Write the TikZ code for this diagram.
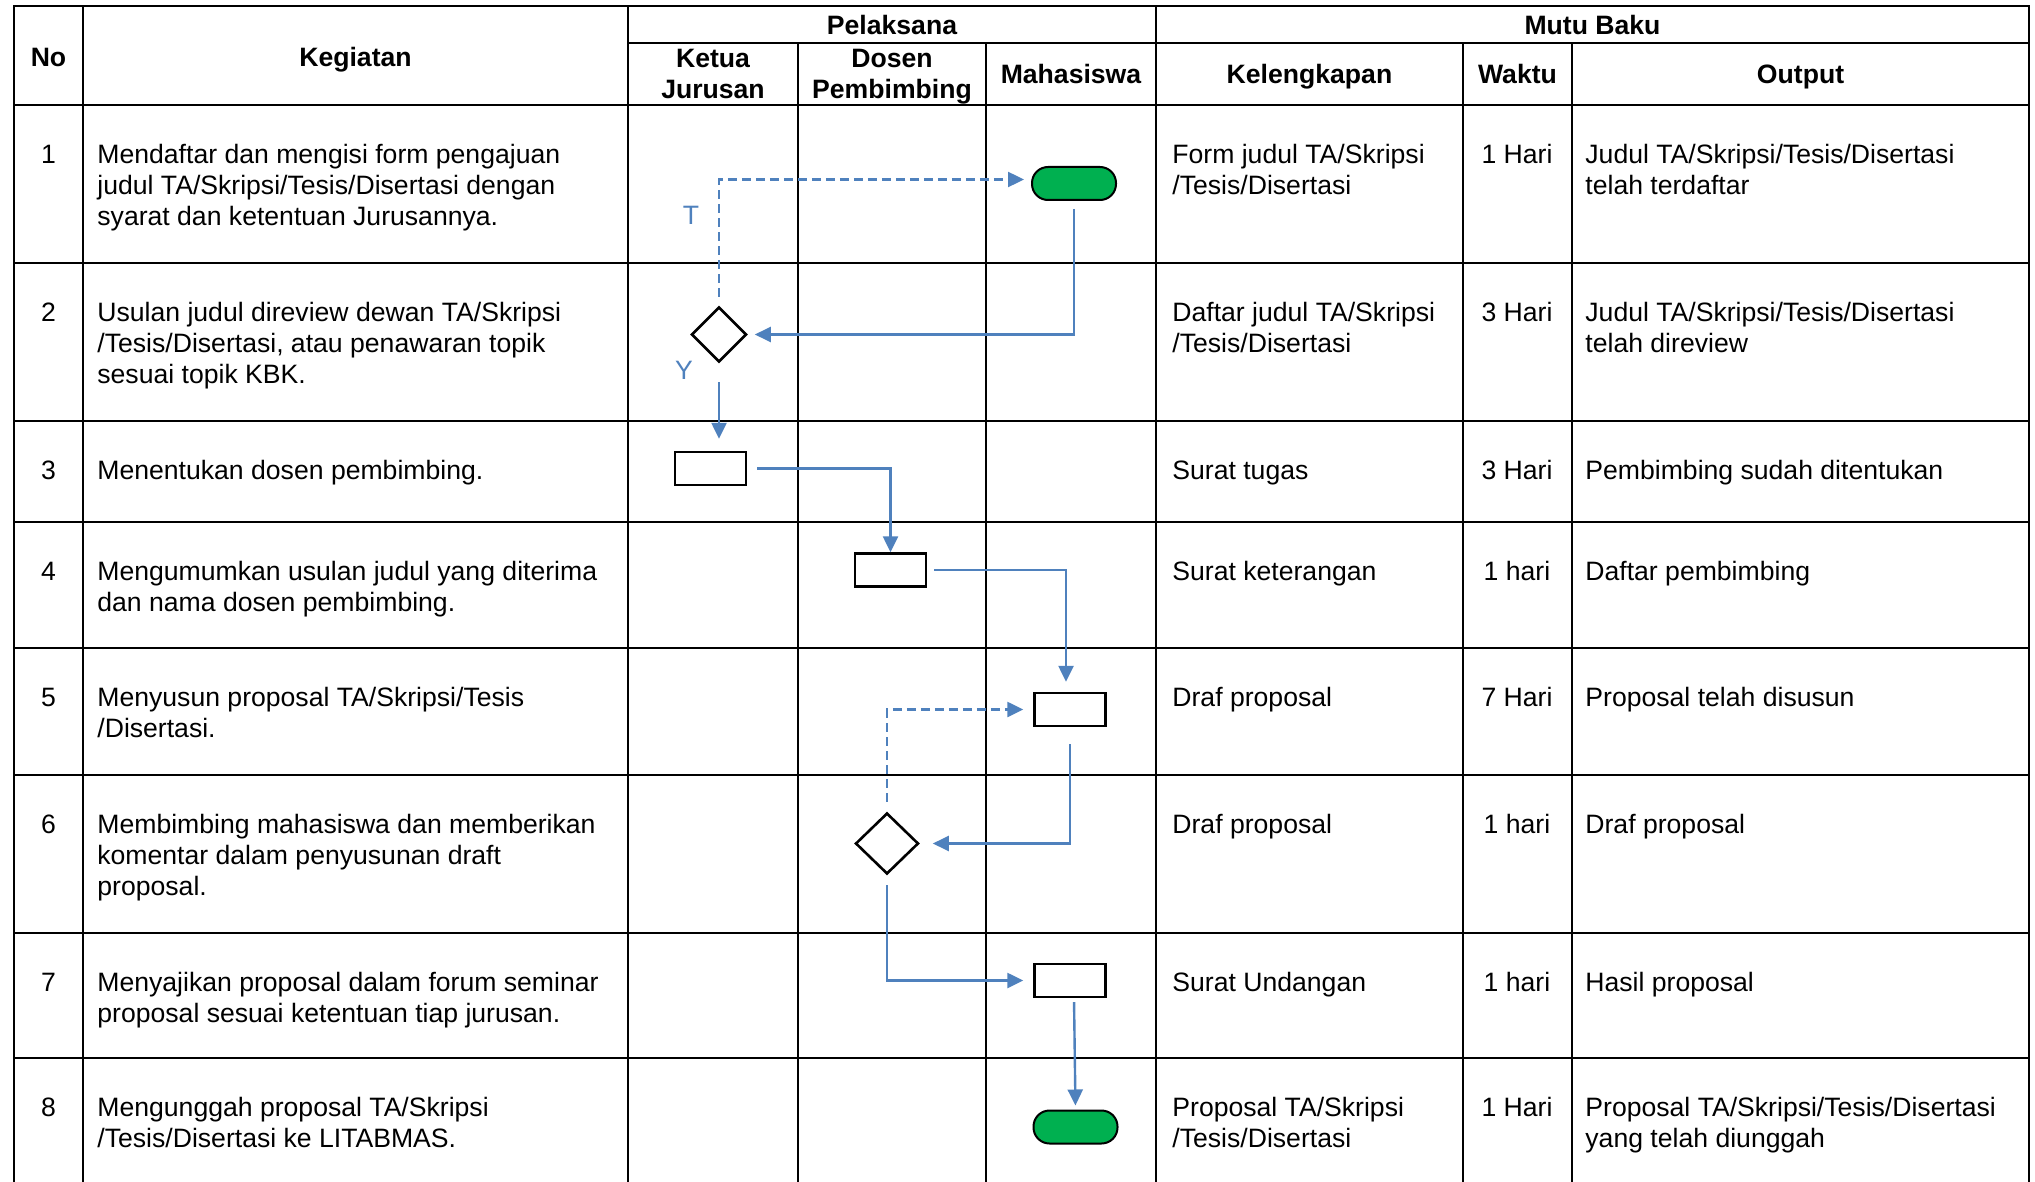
\documentclass[tikz,border=0pt]{standalone}
\usepackage{fontspec}
\setmainfont{Liberation Sans}
\usetikzlibrary{shapes.geometric,arrows.meta}
\definecolor{flowblue}{HTML}{4F81BD}
\definecolor{termgreen}{HTML}{00B050}
\newcommand\tabfont{\fontsize{13.3pt}{15.5pt}\selectfont}
\tikzset{
  cell/.style={anchor=north west,inner sep=0pt,align=left},
  mid/.style={anchor=north,inner sep=0pt,align=center},
  head/.style={mid,font=\tabfont\bfseries},
  terminal/.style={draw,line width=1pt,fill=termgreen,rounded corners=8pt,
    minimum width=42pt,minimum height=16.5pt,inner sep=0pt},
  process/.style={draw,line width=1.2pt,minimum width=35.5pt,minimum height=16.5pt,inner sep=0pt},
  decision/.style={draw,line width=1.3pt,diamond,inner sep=0pt},
  flow/.style={flowblue,line width=1.2pt,-{Triangle[length=8pt,width=7.5pt]}},
  alt/.style={flow,dash pattern=on 4.5pt off 2.5pt},
  lbl/.style={text=flowblue,inner sep=0pt}
}
\begin{document}
\begin{tikzpicture}[x=0.5pt,y=-0.5pt,every node/.style={font=\tabfont}]
    \useasboundingbox (0,0) rectangle (2035,1182);
    % table grid
    \begin{scope}[line width=1pt,line cap=rect]
        \draw (14,6) -- (2029,6);
        \draw (628,43) -- (2029,43);
        \foreach \y in {105,263,421,522,648,775,933,1058}
            \draw (14,\y) -- (2029,\y);
        \foreach \x in {14,83,628,1156,2029}
            \draw (\x,6) -- (\x,1182);
        \foreach \x in {798,986,1463,1572}
            \draw (\x,43) -- (\x,1182);
    \end{scope}
    % header
    \node[head] (hNo) at (48.5,44.3) {\strut No};
    \node[head] (hKeg) at (355.5,44.3) {\strut Kegiatan};
    \node[head] (hPel) at (892,12.3) {\strut Pelaksana};
    \node[head] (hMutu) at (1592.5,12.3) {\strut Mutu Baku};
    \node[head] (hKetua) at (713,45.3) {\strut Ketua\\Jurusan};
    \node[head] (hDosen) at (892,45.3) {\strut Dosen\\Pembimbing};
    \node[head] (hMhs) at (1071,61.3) {\strut Mahasiswa};
    \node[head] (hKel) at (1309.5,61.3) {\strut Kelengkapan};
    \node[head] (hWkt) at (1517.5,61.3) {\strut Waktu};
    \node[head] (hOut) at (1800.5,61.3) {\strut Output};
    % numbers and time
    \foreach \n/\t/\w in {1/105/1 Hari,2/263/3 Hari,3/421/3 Hari,4/522/1 hari,
                          5/648/7 Hari,6/775/1 hari,7/933/1 hari,8/1058/1 Hari}{
        \node[mid] (no\n) at (48.5,\t+36) {\strut\n};
        \node[mid] (wkt\n) at (1517,\t+36) {\strut\w};
    }
    % kegiatan
    \node[cell] (keg1) at (97,141) {\strut Mendaftar dan mengisi form pengajuan\\judul TA/Skripsi/Tesis/Disertasi dengan\\syarat dan ketentuan Jurusannya.};
    \node[cell] (keg2) at (97,299) {\strut Usulan judul direview dewan TA/Skripsi\\/Tesis/Disertasi, atau penawaran topik\\sesuai topik KBK.};
    \node[cell] (keg3) at (97,457) {\strut Menentukan dosen pembimbing.};
    \node[cell] (keg4) at (97,558) {\strut Mengumumkan usulan judul yang diterima\\dan nama dosen pembimbing.};
    \node[cell] (keg5) at (97,684) {\strut Menyusun proposal TA/Skripsi/Tesis\\/Disertasi.};
    \node[cell] (keg6) at (97,811) {\strut Membimbing mahasiswa dan memberikan\\komentar dalam penyusunan draft\\proposal.};
    \node[cell] (keg7) at (97,969) {\strut Menyajikan proposal dalam forum seminar\\proposal sesuai ketentuan tiap jurusan.};
    \node[cell] (keg8) at (97,1094) {\strut Mengunggah proposal TA/Skripsi\\/Tesis/Disertasi ke LITABMAS.};
    % kelengkapan
    \node[cell] (kel1) at (1172,141) {\strut Form judul TA/Skripsi\\/Tesis/Disertasi};
    \node[cell] (kel2) at (1172,299) {\strut Daftar judul TA/Skripsi\\/Tesis/Disertasi};
    \node[cell] (kel3) at (1172,457) {\strut Surat tugas};
    \node[cell] (kel4) at (1172,558) {\strut Surat keterangan};
    \node[cell] (kel5) at (1172,684) {\strut Draf proposal};
    \node[cell] (kel6) at (1172,811) {\strut Draf proposal};
    \node[cell] (kel7) at (1172,969) {\strut Surat Undangan};
    \node[cell] (kel8) at (1172,1094) {\strut Proposal TA/Skripsi\\/Tesis/Disertasi};
    % output
    \node[cell] (out1) at (1585,141) {\strut Judul TA/Skripsi/Tesis/Disertasi\\telah terdaftar};
    \node[cell] (out2) at (1585,299) {\strut Judul TA/Skripsi/Tesis/Disertasi\\telah direview};
    \node[cell] (out3) at (1585,457) {\strut Pembimbing sudah ditentukan};
    \node[cell] (out4) at (1585,558) {\strut Daftar pembimbing};
    \node[cell] (out5) at (1585,684) {\strut Proposal telah disusun};
    \node[cell] (out6) at (1585,811) {\strut Draf proposal};
    \node[cell] (out7) at (1585,969) {\strut Hasil proposal};
    \node[cell] (out8) at (1585,1094) {\strut Proposal TA/Skripsi/Tesis/Disertasi\\yang telah diunggah};
    % flow shapes
    \node[terminal] (t1) at (1074,183.5) {};
    \node[decision,minimum width=27.5pt,minimum height=27.5pt] (d2) at (719,334.5) {};
    \node[process] (p3) at (710.5,468.5) {};
    \node[process] (p4) at (890.5,570) {};
    \node[process] (p5) at (1070,709.5) {};
    \node[decision,minimum width=31.5pt,minimum height=30.5pt] (d6) at (887,843.5) {};
    \node[process] (p7) at (1070,980.5) {};
    \node[terminal] (t8) at (1075.5,1127) {};
    \node[lbl] (lblT) at (691,215) {T};
    \node[lbl] (lblY) at (684,370) {Y};
    % connectors
    \draw[flow,shorten <=4pt,shorten >=3.5pt] (t1.south) |- (d2.east);
    \draw[alt,shorten <=4.5pt,shorten >=3.5pt] (d2.north) |- ([yshift=2pt]t1.west);
    \draw[flow,shorten <=9.5pt,shorten >=6pt] (d2.south) -- (d2.south |- p3.north);
    \draw[flow,shorten <=5pt] (p3.east) -| (p4.north);
    \draw[flow,shorten <=3.5pt,shorten >=5pt] (p4.east) -| ([xshift=-2pt]p5.north);
    \draw[flow,shorten <=8.5pt,shorten >=6.5pt] (p5.south) |- (d6.east);
    \draw[alt,shorten <=5pt,shorten >=5pt] (d6.north) |- (p5.west);
    \draw[flow,shorten <=5pt,shorten >=5pt] (d6.south) |- (p7.west);
    \draw[flow,shorten <=2pt,shorten >=2pt] ([xshift=2pt]p7.south) -- (t8.north);
\end{tikzpicture}
\end{document}
